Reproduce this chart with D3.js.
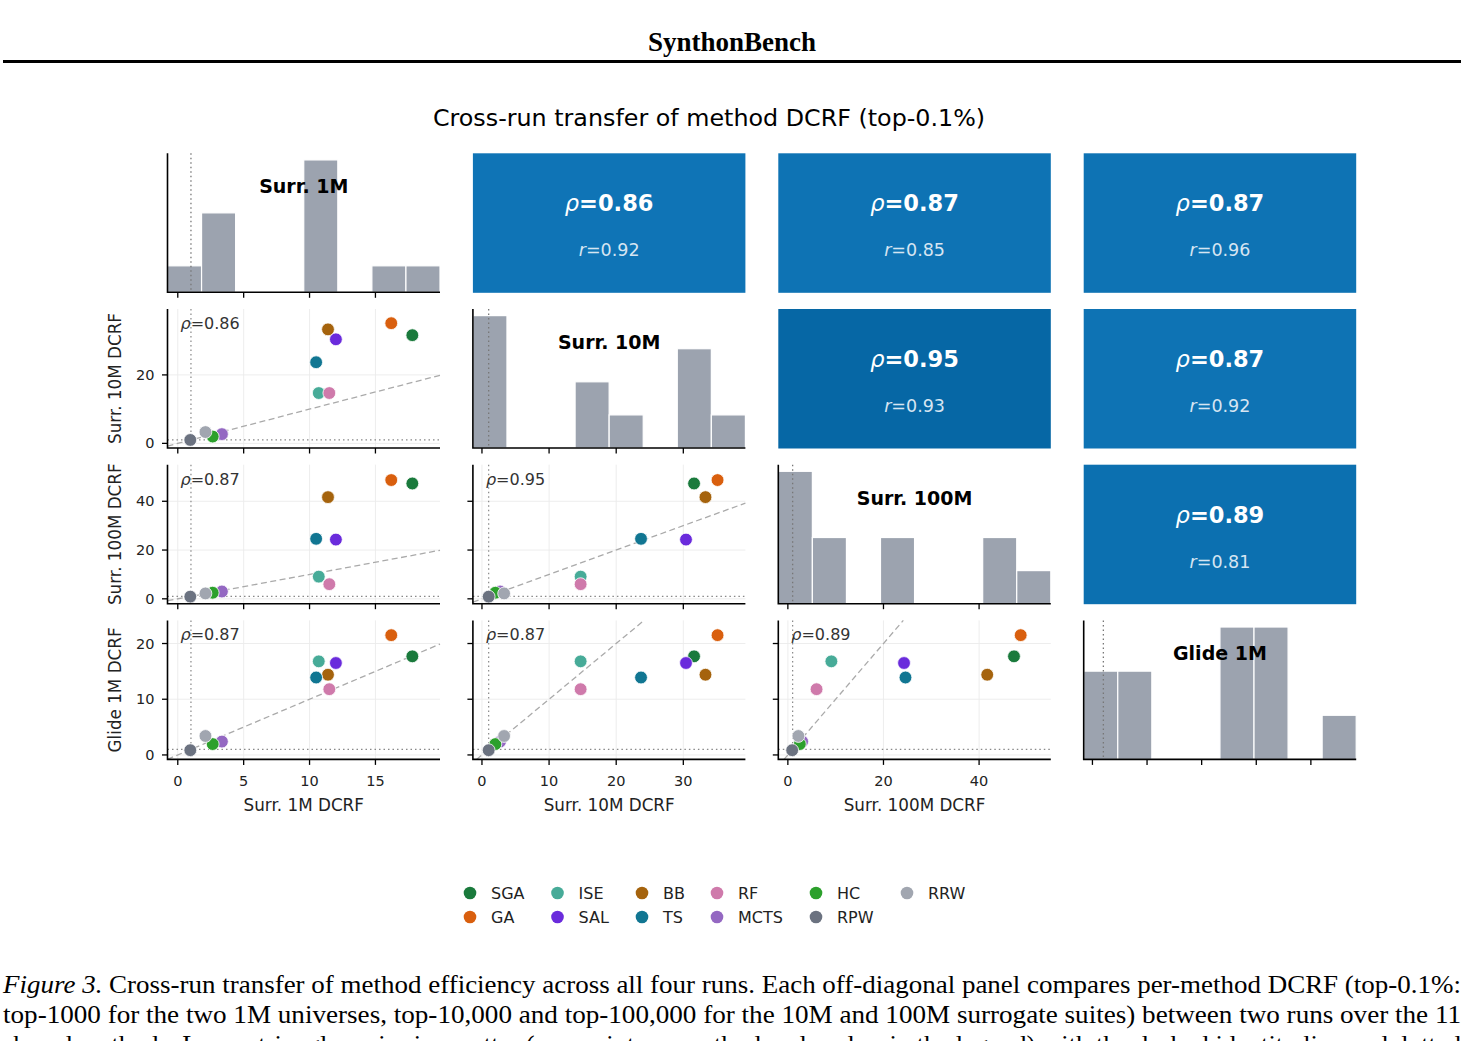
<!DOCTYPE html>
<html>
<head>
<meta charset="utf-8">
<script src="https://cdn.jsdelivr.net/npm/d3@7"></script>
<style>
  body { margin: 0; background: #fff; }
  svg { display: block; }
</style>
</head>
<body>
<script>

// methods, in legend order (column-major) and draw order
var methods = ['SGA', 'GA', 'ISE', 'SAL', 'BB', 'TS', 'RF', 'MCTS', 'HC', 'RPW', 'RRW'];
var methodColors = ['#1a7a3c', '#d95f0e', '#47ab98', '#6a2bdc', '#a5630d', '#117692',
                    '#cf7aab', '#9468c2', '#2ca02c', '#6b7280', '#a1a6b0'];

var runs = ['Surr. 1M', 'Surr. 10M', 'Surr. 100M', 'Glide 1M'];

// per-method DCRF (top-0.1%) in each run
var dcrf1M     = [17.8, 16.2, 10.7, 12.0, 11.4, 10.5, 11.5, 3.35, 2.65, 0.95, 2.1];
var dcrf10M    = [31.6, 35.1, 14.7, 30.4, 33.3, 23.7, 14.7, 2.7, 2.0, 1.0, 3.3];
var dcrf100M   = [47.3, 48.7, 9.1, 24.3, 41.7, 24.6, 6.0, 3.0, 2.5, 0.9, 2.2];
var dcrfGlide1M = [17.7, 21.5, 16.8, 16.5, 14.4, 13.9, 11.8, 2.4, 1.95, 0.85, 3.4];
var runValues = [dcrf1M, dcrf10M, dcrf100M, dcrfGlide1M];

// axis limits per run and tick labels
var runLims = [[-0.78, 19.9], [-1.35, 39.25], [-2.0, 55.0], [-0.8, 24.15]];
var xTicks = [[0, 5, 10, 15], [0, 10, 20, 30], [0, 20, 40], [0, 5, 10, 15, 20]];
var yTicks = [[], [0, 20], [0, 20, 40], [0, 10, 20]];

// correlations for each pair (row run, col run) in the upper triangle
var pairs = [[0, 1], [0, 2], [0, 3], [1, 2], [1, 3], [2, 3]];
var pairRho = [0.86, 0.87, 0.87, 0.95, 0.87, 0.89];
var pairR   = [0.92, 0.85, 0.96, 0.93, 0.92, 0.81];

var captionLines = [
  'Cross-run transfer of method efficiency across all four runs. Each off-diagonal panel compares per-method DCRF (top-0.1%:',
  'top-1000 for the two 1M universes, top-10,000 and top-100,000 for the 10M and 100M surrogate suites) between two runs over the 11',
  'shared methods. Lower triangle: pairwise scatter (one point per method, colored as in the legend) with the dashed identity line and dotted'
];

var W = 1464, H = 1041;
var left0 = 167.5, colPitch = 305.4, panelW = 272.5;
var top0 = 153.3, rowPitch = 155.7, panelH = 139;
var sansFont = 'DejaVu Sans, sans-serif';
var serifFont = 'Liberation Serif, Times New Roman, serif';

var svg = d3.select('body').append('svg')
            .attr('width', W)
            .attr('height', H);

// header
svg.append('text')
   .attr('x', W / 2).attr('y', 51)
   .attr('text-anchor', 'middle')
   .attr('font-family', serifFont)
   .attr('font-weight', 'bold')
   .attr('font-size', 27)
   .text('SynthonBench');

svg.append('line')
   .attr('x1', 3).attr('x2', 1461)
   .attr('y1', 61.5).attr('y2', 61.5)
   .attr('stroke', '#000').attr('stroke-width', 3);

svg.append('text')
   .attr('x', 709).attr('y', 126)
   .attr('text-anchor', 'middle')
   .attr('font-family', sansFont)
   .attr('font-size', 23.8)
   .text('Cross-run transfer of method DCRF (top-0.1%)');

var heatColor = d3.scaleLinear().domain([0.86, 0.95]).range(['#0f74b6', '#0667a5']);

var points = methods.map(function(m, k) { return k; });

var xScaleFor = function(j) {
  var x0 = left0 + j * colPitch;
  return d3.scaleLinear().domain(runLims[j]).range([x0, x0 + panelW]);
};
var yScaleFor = function(i) {
  var y0 = top0 + i * rowPitch;
  return d3.scaleLinear().domain(runLims[i]).range([y0 + panelH, y0]);
};

var drawBottomTicks = function(g, x, ticks, yBottom, withLabels) {
  g.selectAll('line.xt').data(ticks).enter().append('line')
   .attr('x1', function(d) { return x(d); })
   .attr('x2', function(d) { return x(d); })
   .attr('y1', yBottom).attr('y2', yBottom + 5.5)
   .attr('stroke', '#000').attr('stroke-width', 1.3);
  if (withLabels) {
    g.selectAll('text.xt').data(ticks).enter().append('text')
     .attr('x', function(d) { return x(d); })
     .attr('y', yBottom + 27)
     .attr('text-anchor', 'middle')
     .attr('font-family', sansFont).attr('font-size', 14.5)
     .attr('fill', '#222')
     .text(function(d) { return d; });
  }
};

var drawLeftTicks = function(g, y, ticks, xLeft, withLabels) {
  g.selectAll('line.yt').data(ticks).enter().append('line')
   .attr('x1', xLeft - 5.5).attr('x2', xLeft)
   .attr('y1', function(d) { return y(d); })
   .attr('y2', function(d) { return y(d); })
   .attr('stroke', '#000').attr('stroke-width', 1.3);
  if (withLabels) {
    g.selectAll('text.yt').data(ticks).enter().append('text')
     .attr('x', xLeft - 13)
     .attr('y', function(d) { return y(d) + 5; })
     .attr('text-anchor', 'end')
     .attr('font-family', sansFont).attr('font-size', 14.5)
     .attr('fill', '#222')
     .text(function(d) { return d; });
  }
};

var drawSpines = function(g, x0, y0) {
  g.append('path')
   .attr('d', 'M' + x0 + ',' + y0 + 'V' + (y0 + panelH) + 'H' + (x0 + panelW))
   .attr('fill', 'none')
   .attr('stroke', '#000')
   .attr('stroke-width', 1.6);
};

var drawHist = function(i) {
  var x = xScaleFor(i);
  var x0 = left0 + i * colPitch, y0 = top0 + i * rowPitch;
  var lo = runLims[i][0], hi = runLims[i][1];
  var edges = d3.range(1, 8).map(function(k) { return lo + k * (hi - lo) / 8; });
  var bins = d3.bin().domain([lo, hi]).thresholds(edges)(runValues[i]);
  var y = d3.scaleLinear()
            .domain([0, d3.max(bins, function(b) { return b.length; }) * 1.05])
            .range([y0 + panelH, y0]);
  var g = svg.append('g');

  g.selectAll('rect').data(bins).enter().append('rect')
   .attr('x', function(b) { return x(b.x0); })
   .attr('width', function(b) { return x(b.x1) - x(b.x0); })
   .attr('y', function(b) { return y(b.length); })
   .attr('height', function(b) { return y(0) - y(b.length); })
   .attr('fill', '#9ca3af')
   .attr('stroke', '#fff')
   .attr('stroke-width', 1.2);

  g.append('line')
   .attr('x1', x(1)).attr('x2', x(1))
   .attr('y1', y0).attr('y2', y0 + panelH)
   .attr('stroke', '#777').attr('stroke-width', 1.3)
   .attr('stroke-dasharray', '1.5,3');

  g.append('text')
   .attr('x', x0 + panelW / 2).attr('y', y0 + 40)
   .attr('text-anchor', 'middle')
   .attr('font-family', sansFont).attr('font-weight', 'bold')
   .attr('font-size', 19)
   .text(runs[i]);

  drawSpines(g, x0, y0);
  drawBottomTicks(g, x, xTicks[i], y0 + panelH, false);
};

var drawHeat = function(p) {
  var i = pairs[p][0], j = pairs[p][1];
  var x0 = left0 + j * colPitch, y0 = top0 + i * rowPitch;
  var g = svg.append('g');
  g.append('rect')
   .attr('x', x0).attr('y', y0)
   .attr('width', panelW).attr('height', panelH + 0.5)
   .attr('fill', heatColor(pairRho[p]));

  var t1 = g.append('text')
            .attr('x', x0 + panelW / 2).attr('y', y0 + 58)
            .attr('text-anchor', 'middle')
            .attr('font-family', sansFont).attr('font-size', 22.5)
            .attr('fill', '#fff');
  t1.append('tspan').attr('font-style', 'italic').text('\u03c1');
  t1.append('tspan').attr('font-weight', 'bold').text('=' + pairRho[p].toFixed(2));

  var t2 = g.append('text')
            .attr('x', x0 + panelW / 2).attr('y', y0 + 103)
            .attr('text-anchor', 'middle')
            .attr('font-family', sansFont).attr('font-size', 17.5)
            .attr('fill', '#d6e5f2');
  t2.append('tspan').attr('font-style', 'italic').text('r');
  t2.append('tspan').text('=' + pairR[p].toFixed(2));
};

var drawScatter = function(i, j) {
  var x = xScaleFor(j), y = yScaleFor(i);
  var x0 = left0 + j * colPitch, y0 = top0 + i * rowPitch;
  var g = svg.append('g');
  var xv = runValues[j], yv = runValues[i];

  // grid
  g.selectAll('line.gx').data(xTicks[j]).enter().append('line')
   .attr('x1', function(d) { return x(d); }).attr('x2', function(d) { return x(d); })
   .attr('y1', y0).attr('y2', y0 + panelH)
   .attr('stroke', '#ebebeb').attr('stroke-width', 0.9);
  g.selectAll('line.gy').data(yTicks[i]).enter().append('line')
   .attr('x1', x0).attr('x2', x0 + panelW)
   .attr('y1', function(d) { return y(d); }).attr('y2', function(d) { return y(d); })
   .attr('stroke', '#ebebeb').attr('stroke-width', 0.9);

  // DCRF = 1 baselines
  g.append('line')
   .attr('x1', x(1)).attr('x2', x(1)).attr('y1', y0).attr('y2', y0 + panelH)
   .attr('stroke', '#888').attr('stroke-width', 1.2).attr('stroke-dasharray', '1.5,3');
  g.append('line')
   .attr('x1', x0).attr('x2', x0 + panelW).attr('y1', y(1)).attr('y2', y(1))
   .attr('stroke', '#888').attr('stroke-width', 1.2).attr('stroke-dasharray', '1.5,3');

  // identity line
  var a = Math.max(runLims[j][0], runLims[i][0]);
  var b = Math.min(runLims[j][1], runLims[i][1]);
  g.append('line')
   .attr('x1', x(a)).attr('y1', y(a)).attr('x2', x(b)).attr('y2', y(b))
   .attr('stroke', '#aaa').attr('stroke-width', 1.3).attr('stroke-dasharray', '6,3.5');

  g.selectAll('circle').data(points).enter().append('circle')
   .attr('cx', function(k) { return x(xv[k]); })
   .attr('cy', function(k) { return y(yv[k]); })
   .attr('r', 6.4)
   .attr('fill', function(k) { return methodColors[k]; })
   .attr('stroke', '#fff').attr('stroke-width', 0.8);

  var rho = pairRho[pairs.findIndex(function(p) { return p[0] === j && p[1] === i; })];
  var t = g.append('text')
           .attr('x', x0 + 13).attr('y', y0 + 20)
           .attr('font-family', sansFont).attr('font-size', 16)
           .attr('fill', '#333');
  t.append('tspan').attr('font-style', 'italic').text('\u03c1');
  t.append('tspan').text('=' + rho.toFixed(2));

  drawSpines(g, x0, y0);
  drawBottomTicks(g, x, xTicks[j], y0 + panelH, i === 3);
  drawLeftTicks(g, y, yTicks[i], x0, j === 0);
};

for (var i = 0; i < 4; i++) {
  for (var j = 0; j < 4; j++) {
    if (i === j) drawHist(i);
    else if (i > j) drawScatter(i, j);
  }
}
for (var p = 0; p < pairs.length; p++) drawHeat(p);

// axis labels
for (var c = 0; c < 3; c++) {
  svg.append('text')
     .attr('x', left0 + c * colPitch + panelW / 2)
     .attr('y', top0 + 3 * rowPitch + panelH + 52)
     .attr('text-anchor', 'middle')
     .attr('font-family', sansFont).attr('font-size', 16.8)
     .attr('fill', '#222')
     .text(runs[c] + ' DCRF');
}
for (var r = 1; r < 4; r++) {
  var cy = top0 + r * rowPitch + panelH / 2;
  svg.append('text')
     .attr('transform', 'translate(121,' + cy + ') rotate(-90)')
     .attr('text-anchor', 'middle')
     .attr('font-family', sansFont).attr('font-size', 16.8)
     .attr('fill', '#222')
     .text(runs[r] + ' DCRF');
}

// legend
var legendColX = [470, 557.5, 642, 717, 816, 907];
var legend = svg.append('g');
methods.forEach(function(m, k) {
  var col = Math.floor(k / 2), row = k % 2;
  var ly = 893 + row * 24;
  legend.append('circle')
        .attr('cx', legendColX[col]).attr('cy', ly)
        .attr('r', 6.3)
        .attr('fill', methodColors[k]);
  legend.append('text')
        .attr('x', legendColX[col] + 21).attr('y', ly + 6)
        .attr('font-family', sansFont).attr('font-size', 16)
        .attr('fill', '#222')
        .text(m);
});

// caption (justified to the page width); the third line runs off the page as in the source
captionLines.forEach(function(line, k) {
  var t = svg.append('text')
             .attr('x', 3).attr('y', 993 + k * 30)
             .attr('font-family', serifFont).attr('font-size', 25.5)
             .attr('textLength', 1458).attr('lengthAdjust', 'spacingAndGlyphs');
  if (k === 0) {
    t.append('tspan').attr('font-style', 'italic').text('Figure 3.');
    t.append('tspan').text(' ' + line);
  } else {
    t.text(line);
  }
});

</script>
</body>
</html>
